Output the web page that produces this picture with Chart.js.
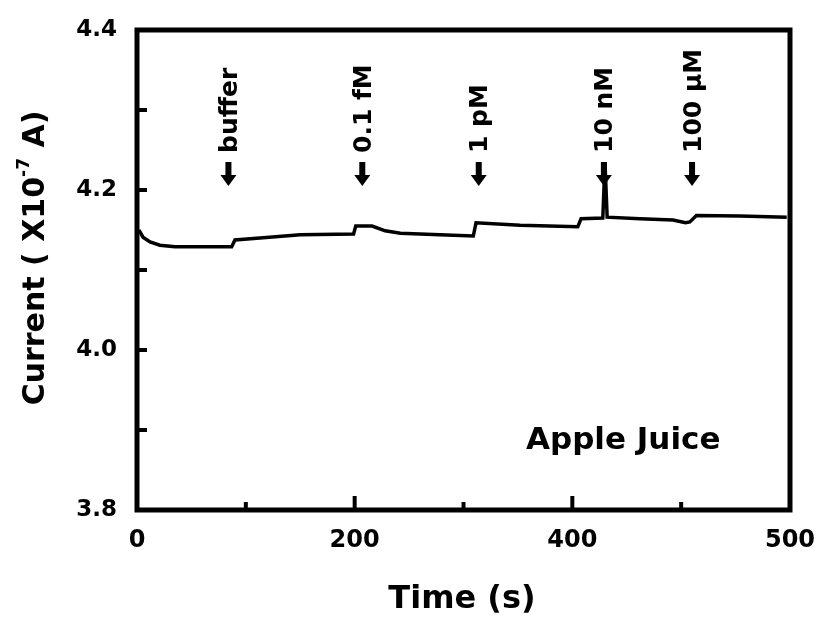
<!DOCTYPE html>
<html>
<head>
<meta charset="utf-8">
<script src="https://cdn.jsdelivr.net/npm/chart.js@4/dist/chart.umd.min.js"></script>
<style>
    body { margin: 0; background: #fff; }
    canvas { display: block; }
</style>
</head>
<body>
<canvas id="chart" width="823" height="623"></canvas>
<script>
// Trace: time (s) and current (x10^-7 A)
const timeS = [1.8, 5.5, 12, 21, 35, 58, 87, 90, 113, 150, 199, 201, 216, 228, 242, 278, 309, 311.5,
    352, 405, 408, 428, 430, 432, 462, 492.5, 504, 508, 514, 554, 597];
const currentA = [4.150, 4.141, 4.135, 4.131, 4.129, 4.129, 4.129, 4.1375, 4.140, 4.144, 4.145, 4.155,
    4.155, 4.149, 4.146, 4.144, 4.1425, 4.159, 4.156, 4.154, 4.164, 4.165, 4.234, 4.166, 4.164, 4.1625,
    4.159, 4.160, 4.168, 4.1675, 4.166];

// Injection marks
const eventTimes = [84, 207, 314, 429, 510];
const eventLabels = ['buffer', '0.1 fM', '1 pM', '10 nM', '100 µM'];

// Axis labels as printed on the figure (the last x tick reads 500)
const xTickLabels = { 0: '0', 200: '200', 400: '400', 600: '500' };
const yMinorTicks = [3.9, 4.0, 4.1, 4.2, 4.3];
const xMinorTicks = [100, 200, 300, 400, 500];

const FONT = '"DejaVu Sans", "Liberation Sans", Arial, sans-serif';

// keep the plot box where the figure has it
function noOverflow(s) {
    s.paddingLeft = s.paddingRight = s.paddingTop = s.paddingBottom = 0;
}

const decorPlugin = {
    id: 'decor',
    afterDraw(chart) {
        const ctx = chart.ctx;
        const a = chart.chartArea;
        const xs = chart.scales.x, ys = chart.scales.y;
        ctx.save();
        ctx.strokeStyle = '#000';
        ctx.fillStyle = '#000';

        // frame
        ctx.lineWidth = 5;
        ctx.strokeRect(a.left, a.top, a.right - a.left, a.bottom - a.top);

        // inward ticks
        ctx.lineWidth = 4;
        yMinorTicks.forEach(v => {
            const py = ys.getPixelForValue(v);
            ctx.beginPath();
            ctx.moveTo(a.left, py);
            ctx.lineTo(a.left + 10, py);
            ctx.stroke();
        });
        xMinorTicks.forEach(v => {
            const px = xs.getPixelForValue(v);
            const len = v % 200 === 0 ? 14 : 8;
            ctx.beginPath();
            ctx.moveTo(px, a.bottom);
            ctx.lineTo(px, a.bottom - len);
            ctx.stroke();
        });

        // arrows + labels
        const tip = ys.getPixelForValue(4.205);
        eventTimes.forEach((t, i) => {
            const px = xs.getPixelForValue(t);
            ctx.fillRect(px - 3, tip - 24, 6, 14);
            ctx.beginPath();
            ctx.moveTo(px - 8, tip - 11);
            ctx.lineTo(px + 8, tip - 11);
            ctx.lineTo(px, tip);
            ctx.closePath();
            ctx.fill();

            ctx.save();
            ctx.translate(px + 2, tip - 33);
            ctx.rotate(-Math.PI / 2);
            ctx.font = 'bold 25px ' + FONT;
            ctx.textAlign = 'left';
            ctx.textBaseline = 'middle';
            ctx.fillText(eventLabels[i], 0, 0);
            ctx.restore();
        });

        // sample label
        ctx.font = 'bold 31px ' + FONT;
        ctx.textAlign = 'left';
        ctx.textBaseline = 'middle';
        ctx.fillText('Apple Juice', 526, 441);

        // x title
        ctx.font = 'bold 32px ' + FONT;
        ctx.textAlign = 'center';
        ctx.fillText('Time (s)', 462, 600);

        // y title with superscript
        ctx.save();
        ctx.translate(36, 258);
        ctx.rotate(-Math.PI / 2);
        const big = 'bold 30px ' + FONT, small = 'bold 17px ' + FONT;
        const parts = [['Current ( X10', big, 0], ['-7', small, -11], [' A)', big, 0]];
        let total = 0;
        parts.forEach(p => { ctx.font = p[1]; total += ctx.measureText(p[0]).width; });
        let cx = -total / 2;
        ctx.textAlign = 'left';
        parts.forEach(p => {
            ctx.font = p[1];
            ctx.fillText(p[0], cx, p[2]);
            cx += ctx.measureText(p[0]).width;
        });
        ctx.restore();

        ctx.restore();
    }
};

new Chart(document.getElementById('chart'), {
    type: 'line',
    data: {
        datasets: [{
            data: timeS.map((t, i) => ({ x: t, y: currentA[i] })),
            borderColor: '#000',
            borderWidth: 3.5,
            pointRadius: 0,
            tension: 0
        }]
    },
    options: {
        responsive: false,
        animation: false,
        layout: { padding: { top: 30, right: 33, left: 0, bottom: 0 } },
        plugins: { legend: { display: false }, tooltip: { enabled: false } },
        scales: {
            x: {
                type: 'linear',
                min: 0, max: 600,
                grid: { display: false, drawTicks: false },
                border: { display: false },
                ticks: {
                    stepSize: 100,
                    autoSkip: false,
                    maxRotation: 0,
                    padding: 16,
                    color: '#000',
                    font: { family: FONT, weight: 'bold', size: 24 },
                    callback: v => xTickLabels[v] ?? ''
                },
                afterFit: s => { s.height = 113; noOverflow(s); }
            },
            y: {
                min: 3.8, max: 4.4,
                grid: { display: false, drawTicks: false },
                border: { display: false },
                ticks: {
                    stepSize: 0.2,
                    padding: 20,
                    color: '#000',
                    font: { family: FONT, weight: 'bold', size: 23 },
                    callback: v => v.toFixed(1)
                },
                afterFit: s => { s.width = 137; noOverflow(s); }
            }
        }
    },
    plugins: [decorPlugin]
});
</script>
</body>
</html>
